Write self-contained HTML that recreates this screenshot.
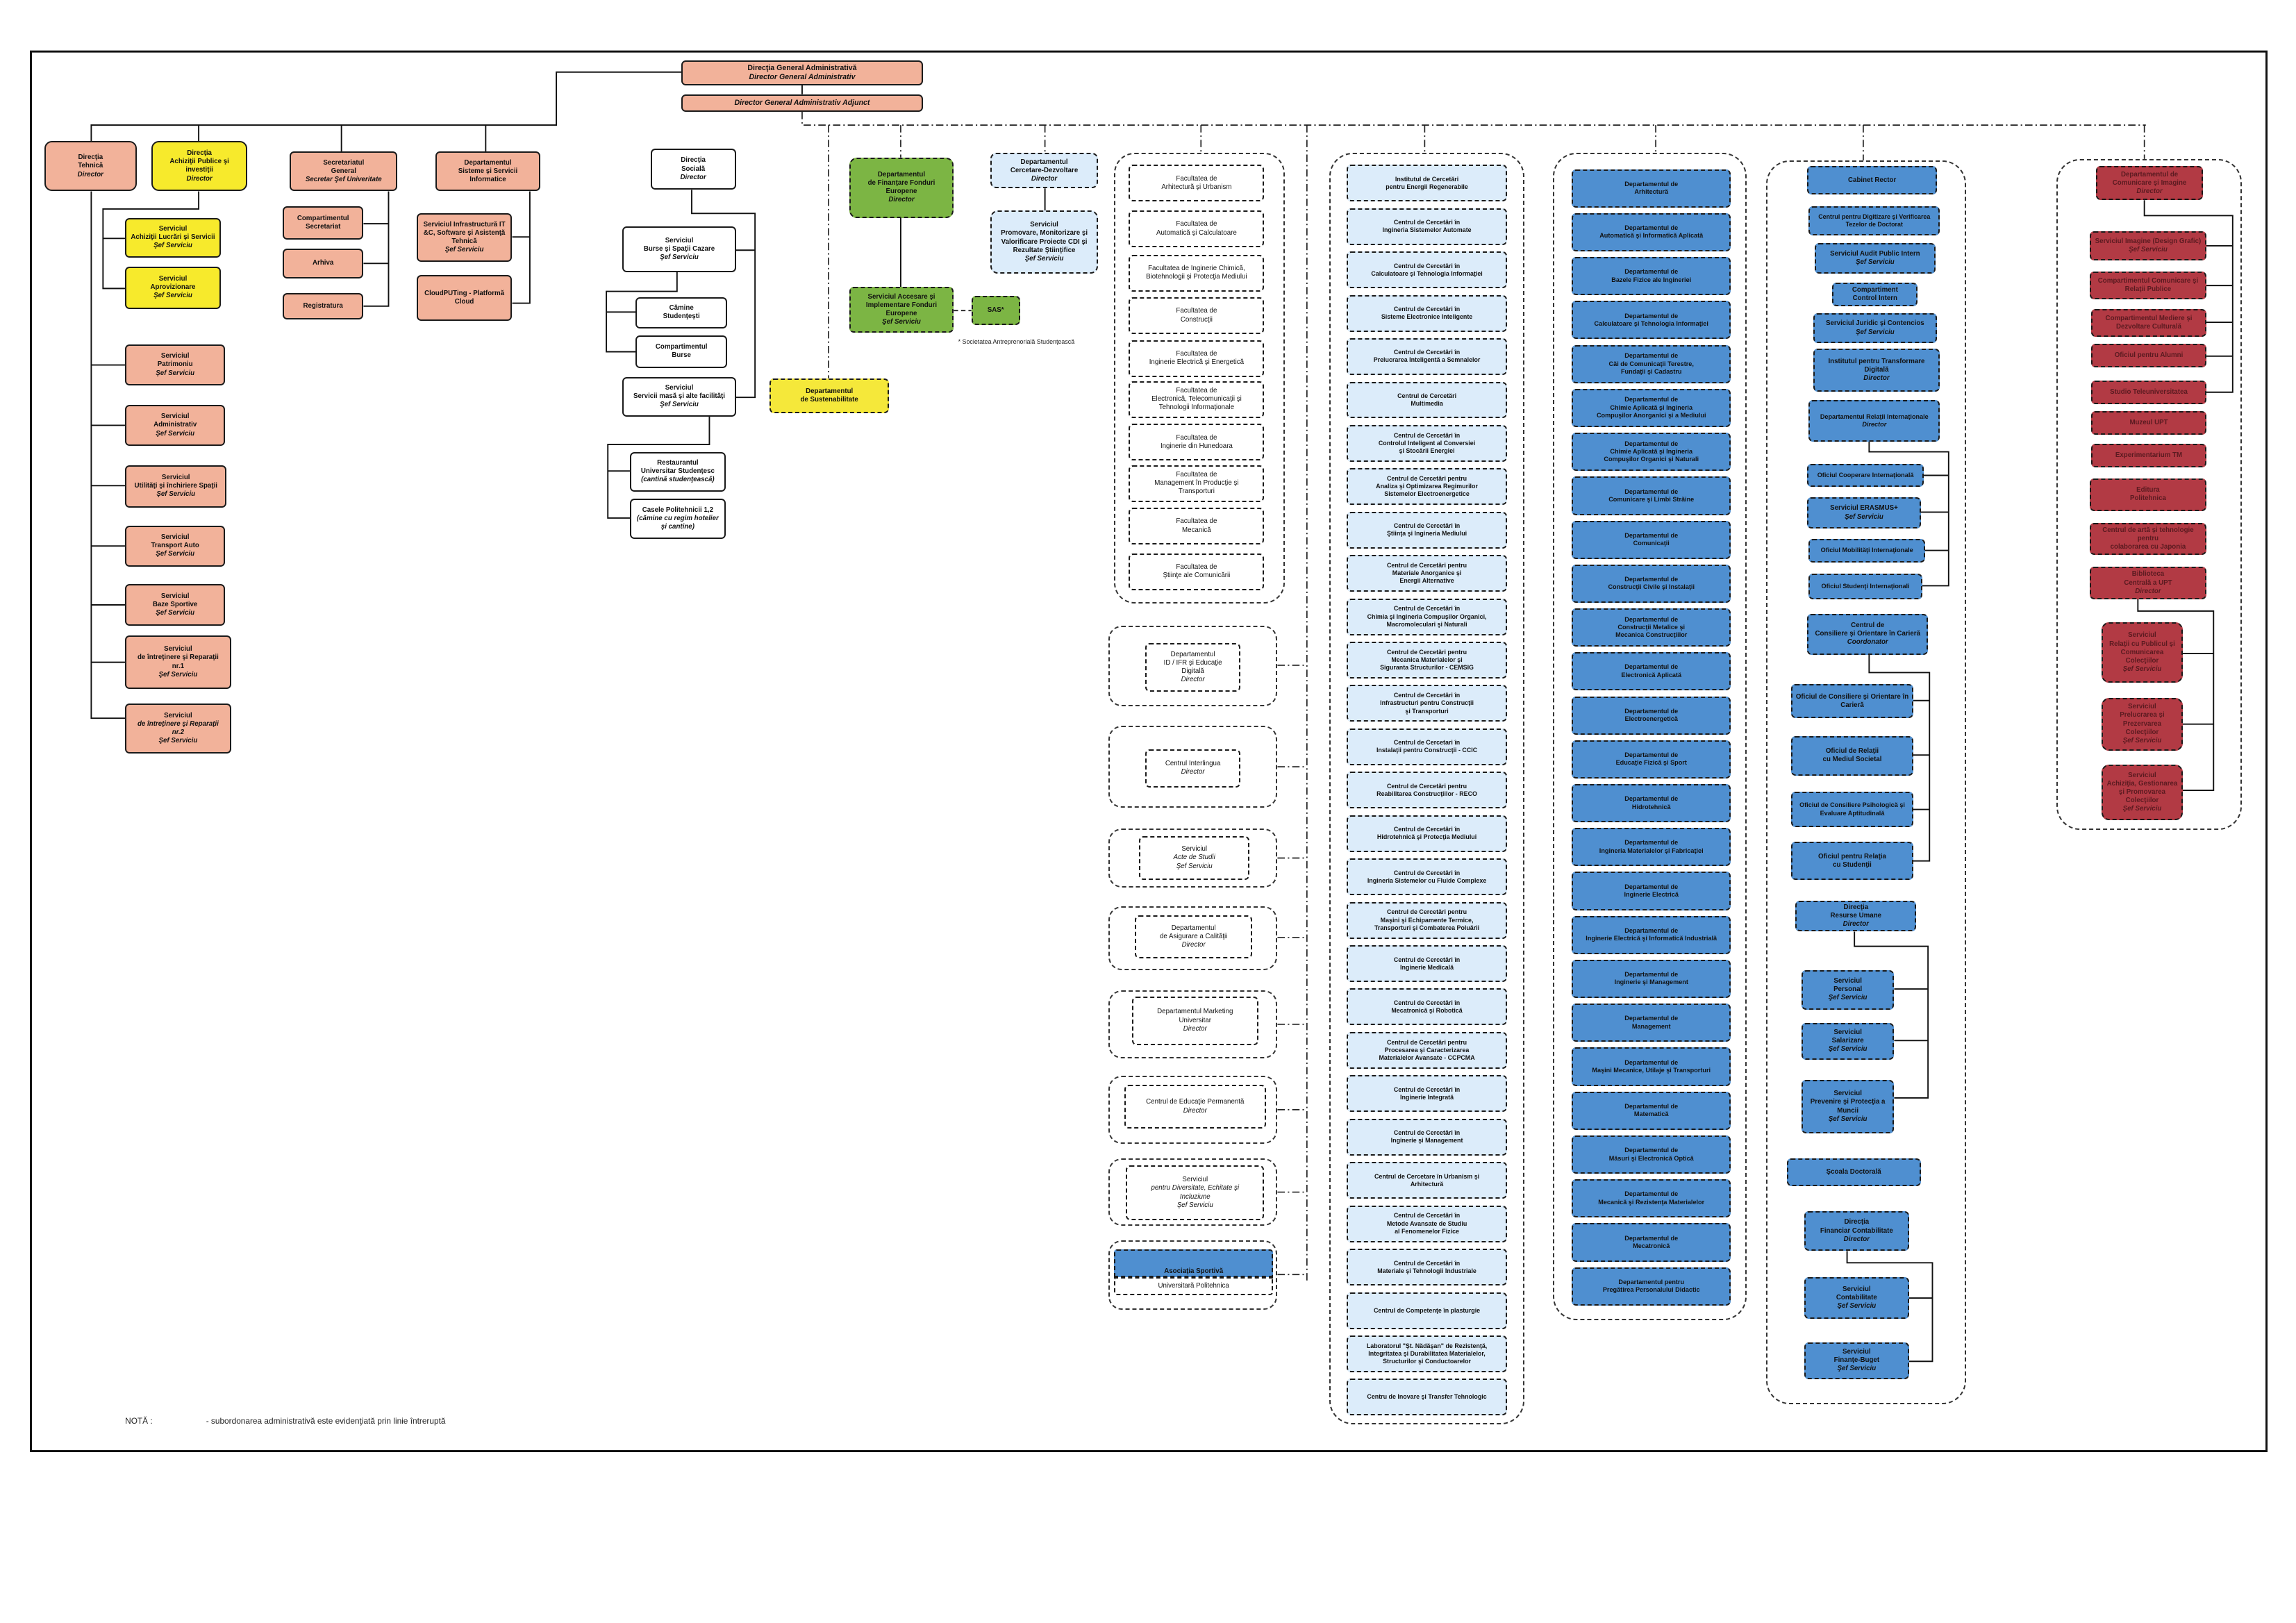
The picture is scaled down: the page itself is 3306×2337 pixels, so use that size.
<!DOCTYPE html>
<html><head><meta charset="utf-8"><style>
html,body{margin:0;padding:0;background:#fff;}
body{width:3306px;height:2337px;overflow:hidden;}
#w{position:absolute;left:0;top:0;width:1560px;height:1103px;zoom:2.1192;font-family:"Liberation Sans Narrow","Liberation Sans",sans-serif;}
.b{position:absolute;display:flex;align-items:center;justify-content:center;text-align:center;box-sizing:border-box;border:1.3px solid #1a1a1a;border-radius:3px;font-size:4.6px;line-height:1.25;color:#111;font-weight:bold;padding:0 1px;}
.s{background:#f2b29a;}
.y{background:#f7ea2c;}
.w{background:#fff;}
.g{background:#7cb544;border-style:dashed;}
.lb{background:#dcecfa;border-style:dashed;}
.wd{background:#fff;border-style:dashed;font-weight:normal;}
.bl{background:#4f8fd0;border-style:dashed;}
.r{background:#b23a44;border-style:dashed;color:#5a1a20;}
.yd{background:#f5e83a;border-style:dashed;}
.c{position:absolute;box-sizing:border-box;border:1px dashed #333;border-radius:9px;}
.f{left:767px;width:92px;height:25px;font-weight:normal;}
.rc{left:915px;width:109px;height:25px;font-size:4.2px;}
.dp{left:1068px;width:108px;height:26px;font-size:4.3px;}
svg{position:absolute;left:0;top:0;}
</style></head><body><div id="w">
<svg width="1560" height="1103" viewBox="0 0 1560 1103" fill="none">
<rect x="21" y="35" width="1519" height="951" stroke="#111" stroke-width="1.4"/>
<g stroke="#111" stroke-width="0.9">
<path d="M463 49H378V85H62V97M135 85V96M232 85V103M330 85V103M545 57V64"/>
<path d="M135 130V142H70V196H85M70 162H85"/>
<path d="M264 130V208H247M247 152H264M247 179H264"/>
<path d="M360 130V206H348M348 161H360"/>
<path d="M62 130V488H85M62 248H85M62 289H85M62 330H85M62 371H85M62 411H85M62 450H85"/>
<path d="M470 129V145H513V270H500M500 170H513"/>
<path d="M460 185V198H412V239H432M412 212H432"/>
<path d="M482 283V302H413V352H428M413 320H428"/>
<path d="M612 148V195M710 128V143"/>
<path d="M1270 300V307H1324V398H1306M1307 323H1324M1305 348H1324M1308 374H1324"/>
<path d="M1270 445V457H1311V585H1300M1300 476H1311M1300 513H1311M1300 550H1311"/>
<path d="M1260 633V643H1310V746H1287M1287 672H1310M1287 707H1310"/>
<path d="M1255 850V858H1313V925H1297M1297 882H1313"/>
<path d="M1457 136V146.5H1517V266.5H1499M1499 167H1517M1499 194H1517M1499 219H1517M1499 242H1517"/>
<path d="M1452.6 407V415.2H1504V537H1483M1483 444H1504M1483 492H1504"/>
</g>
<g stroke="#222" stroke-width="0.8" stroke-dasharray="5 2 1 2">
<path d="M545 76V85H1458M563 85V257M612 85V107M710 85V104M816 85V105M968 85V104M1125 85V104M1266 85V109M1457 85V108M888 85V870"/>
<path d="M868 452H888M868 521H888M868 583H888M868 637H888M868 696H888M868 754H888M868 810H888M868 866H888"/>
</g>
<path d="M648 211H660" stroke="#222" stroke-width="0.9" stroke-dasharray="3 2"/>
</svg>

<div class="b s" style="left:463px;top:41px;width:164px;height:17px;font-size:5px"><span>Direcţia General Administrativă<br><i>Director General Administrativ</i></span></div>
<div class="b s" style="left:463px;top:64px;width:164px;height:12px;font-size:5px"><span><i>Director General Administrativ Adjunct</i></span></div>

<div class="b s" style="left:30px;top:96px;width:63px;height:34px;border-radius:5px"><span>Direcţia<br>Tehnică<br><i>Director</i></span></div>
<div class="b y" style="left:103px;top:96px;width:65px;height:34px;border-radius:5px"><span>Direcţia<br>Achiziţii Publice şi<br>investiţii<br><i>Director</i></span></div>
<div class="b s" style="left:197px;top:103px;width:73px;height:27px"><span>Secretariatul<br>General<br><i>Secretar Şef Univeritate</i></span></div>
<div class="b s" style="left:296px;top:103px;width:71px;height:27px"><span>Departamentul<br>Sisteme şi Servicii<br>Informatice</span></div>
<div class="b y" style="left:85px;top:148px;width:65px;height:27px"><span>Serviciul<br>Achiziţii Lucrări şi Servicii<br><i>Şef Serviciu</i></span></div>
<div class="b y" style="left:85px;top:181px;width:65px;height:29px"><span>Serviciul<br>Aprovizionare<br><i>Şef Serviciu</i></span></div>
<div class="b s" style="left:192px;top:140px;width:55px;height:23px"><span>Compartimentul<br>Secretariat</span></div>
<div class="b s" style="left:192px;top:169px;width:55px;height:20px"><span>Arhiva</span></div>
<div class="b s" style="left:192px;top:199px;width:55px;height:18px"><span>Registratura</span></div>
<div class="b s" style="left:283px;top:145px;width:65px;height:33px"><span>Serviciul Infrastructură IT<br>&amp;C, Software şi Asistenţă<br>Tehnică<br><i>Şef Serviciu</i></span></div>
<div class="b s" style="left:283px;top:187px;width:65px;height:31px"><span>CloudPUTing - Platformă<br>Cloud</span></div>
<div class="b s" style="left:85px;top:234px;width:68px;height:28px"><span>Serviciul<br>Patrimoniu<br><i>Şef Serviciu</i></span></div>
<div class="b s" style="left:85px;top:275px;width:68px;height:28px"><span>Serviciul<br>Administrativ<br><i>Şef Serviciu</i></span></div>
<div class="b s" style="left:85px;top:316px;width:69px;height:29px"><span>Serviciul<br>Utilităţi şi închiriere Spaţii<br><i>Şef Serviciu</i></span></div>
<div class="b s" style="left:85px;top:357px;width:68px;height:28px"><span>Serviciul<br>Transport Auto<br><i>Şef Serviciu</i></span></div>
<div class="b s" style="left:85px;top:397px;width:68px;height:28px"><span>Serviciul<br>Baze Sportive<br><i>Şef Serviciu</i></span></div>
<div class="b s" style="left:85px;top:432px;width:72px;height:36px"><span>Serviciul<br>de întreţinere şi Reparaţii<br>nr.1<br><i>Şef Serviciu</i></span></div>
<div class="b s" style="left:85px;top:478px;width:72px;height:34px"><span>Serviciul<br><i>de întreţinere şi Reparaţii<br>nr.2<br>Şef Serviciu</i></span></div>

<div class="b w" style="left:442px;top:101px;width:58px;height:28px"><span>Direcţia<br>Socială<br><i>Director</i></span></div>
<div class="b w" style="left:423px;top:154px;width:77px;height:31px"><span>Serviciul<br>Burse şi Spaţii Cazare<br><i>Şef Serviciu</i></span></div>
<div class="b w" style="left:432px;top:202px;width:62px;height:21px"><span>Cămine<br>Studenţeşti</span></div>
<div class="b w" style="left:432px;top:228px;width:62px;height:22px"><span>Compartimentul<br>Burse</span></div>
<div class="b w" style="left:423px;top:256px;width:77px;height:27px"><span>Serviciul<br>Servicii masă şi alte facilităţi<br><i>Şef Serviciu</i></span></div>
<div class="b w" style="left:428px;top:307px;width:65px;height:27px"><span>Restaurantul<br>Universitar Studenţesc<br><i>(cantină studenţească)</i></span></div>
<div class="b w" style="left:428px;top:339px;width:65px;height:27px"><span>Casele Politehnicii 1,2<br><i>(cămine cu regim hotelier<br>şi cantine)</i></span></div>

<div class="b yd" style="left:523px;top:257px;width:81px;height:24px"><span>Departamentul<br>de Sustenabilitate</span></div>
<div class="b g" style="left:577px;top:107px;width:71px;height:41px;border-radius:5px"><span>Departamentul<br>de Finanţare Fonduri<br>Europene<br><i>Director</i></span></div>
<div class="b g" style="left:577px;top:195px;width:71px;height:31px"><span>Serviciul Accesare şi<br>Implementare Fonduri<br>Europene<br><i>Şef Serviciu</i></span></div>
<div class="b g" style="left:660px;top:201px;width:33px;height:20px"><span>SAS*</span></div>
<div style="position:absolute;left:651px;top:230px;font-size:4.2px;color:#222">* Societatea Antreprenorială Studenţească</div>
<div class="b lb" style="left:673px;top:104px;width:73px;height:24px;border-radius:4px"><span>Departamentul<br>Cercetare-Dezvoltare<br><i>Director</i></span></div>
<div class="b lb" style="left:673px;top:143px;width:73px;height:43px;border-radius:5px"><span>Serviciul<br>Promovare, Monitorizare şi<br>Valorificare Proiecte CDI şi<br>Rezultate Ştiinţifice<br><i>Şef Serviciu</i></span></div>

<div class="c" style="left:757px;top:104px;width:116px;height:306px;border-radius:14px"></div>
<div class="b wd f" style="top:112px"><span>Facultatea de<br>Arhitectură şi Urbanism</span></div>
<div class="b wd f" style="top:143px"><span>Facultatea de<br>Automatică şi Calculatoare</span></div>
<div class="b wd f" style="top:173px"><span>Facultatea de Inginerie Chimică,<br>Biotehnologii şi Protecţia Mediului</span></div>
<div class="b wd f" style="top:202px"><span>Facultatea de<br>Construcţii</span></div>
<div class="b wd f" style="top:231px"><span>Facultatea de<br>Inginerie Electrică şi Energetică</span></div>
<div class="b wd f" style="top:259px"><span>Facultatea de<br>Electronică, Telecomunicaţii şi<br>Tehnologii Informaţionale</span></div>
<div class="b wd f" style="top:288px"><span>Facultatea de<br>Inginerie din Hunedoara</span></div>
<div class="b wd f" style="top:316px"><span>Facultatea de<br>Management în Producţie şi<br>Transporturi</span></div>
<div class="b wd f" style="top:345px"><span>Facultatea de<br>Mecanică</span></div>
<div class="b wd f" style="top:376px"><span>Facultatea de<br>Ştiinţe ale Comunicării</span></div>

<div class="c" style="left:753px;top:425px;width:115px;height:55px"></div>
<div class="b wd" style="left:778px;top:437px;width:65px;height:33px"><span>Departamentul<br>ID / IFR şi Educaţie<br>Digitală<br><i>Director</i></span></div>
<div class="c" style="left:753px;top:493px;width:115px;height:56px"></div>
<div class="b wd" style="left:778px;top:509px;width:65px;height:26px"><span>Centrul Interlingua<br><i>Director</i></span></div>
<div class="c" style="left:753px;top:563px;width:115px;height:40px"></div>
<div class="b wd" style="left:774px;top:568px;width:75px;height:30px"><span>Serviciul<br><i>Acte de Studii<br>Şef Serviciu</i></span></div>
<div class="c" style="left:753px;top:616px;width:115px;height:43px"></div>
<div class="b wd" style="left:771px;top:622px;width:80px;height:29px"><span>Departamentul<br>de Asigurare a Calităţii<br><i>Director</i></span></div>
<div class="c" style="left:753px;top:673px;width:115px;height:46px"></div>
<div class="b wd" style="left:769px;top:677px;width:86px;height:33px"><span>Departamentul Marketing<br>Universitar<br><i>Director</i></span></div>
<div class="c" style="left:753px;top:731px;width:115px;height:46px"></div>
<div class="b wd" style="left:764px;top:737px;width:96px;height:30px"><span>Centrul de Educaţie Permanentă<br><i>Director</i></span></div>
<div class="c" style="left:753px;top:787px;width:115px;height:46px"></div>
<div class="b wd" style="left:765px;top:792px;width:94px;height:37px"><span>Serviciul<br><i>pentru Diversitate, Echitate şi<br>Incluziune<br>Şef Serviciu</i></span></div>
<div class="c" style="left:753px;top:843px;width:115px;height:47px"></div>
<div class="b bl" style="left:757px;top:849px;width:108px;height:19px;border-radius:2px 2px 0 0;align-items:flex-end"><span>Asociaţia Sportivă</span></div>
<div class="b wd" style="left:757px;top:868px;width:108px;height:12px;border-radius:0 0 2px 2px"><span>Universitară Politehnica</span></div>

<div class="c" style="left:903px;top:104px;width:133px;height:864px;border-radius:16px"></div>
<div class="b lb rc" style="top:112px"><span>Institutul de Cercetări<br>pentru Energii Regenerabile</span></div>
<div class="b lb rc" style="top:141.5px"><span>Centrul de Cercetări în<br>Ingineria Sistemelor Automate</span></div>
<div class="b lb rc" style="top:170.9px"><span>Centrul de Cercetări în<br>Calculatoare şi Tehnologia Informaţiei</span></div>
<div class="b lb rc" style="top:200.4px"><span>Centrul de Cercetări în<br>Sisteme Electronice Inteligente</span></div>
<div class="b lb rc" style="top:229.8px"><span>Centrul de Cercetări în<br>Prelucrarea Inteligentă a Semnalelor</span></div>
<div class="b lb rc" style="top:259.3px"><span>Centrul de Cercetări<br>Multimedia</span></div>
<div class="b lb rc" style="top:288.8px"><span>Centrul de Cercetări în<br>Controlul Inteligent al Conversiei<br>şi Stocării Energiei</span></div>
<div class="b lb rc" style="top:318.2px"><span>Centrul de Cercetări pentru<br>Analiza şi Optimizarea Regimurilor<br>Sistemelor Electroenergetice</span></div>
<div class="b lb rc" style="top:347.7px"><span>Centrul de Cercetări în<br>Ştiinţa şi Ingineria Mediului</span></div>
<div class="b lb rc" style="top:377.1px"><span>Centrul de Cercetări pentru<br>Materiale Anorganice şi<br>Energii Alternative</span></div>
<div class="b lb rc" style="top:406.6px"><span>Centrul de Cercetări în<br>Chimia şi Ingineria Compuşilor Organici,<br>Macromoleculari şi Naturali</span></div>
<div class="b lb rc" style="top:436.1px"><span>Centrul de Cercetări pentru<br>Mecanica Materialelor şi<br>Siguranta Structurilor - CEMSIG</span></div>
<div class="b lb rc" style="top:465.5px"><span>Centrul de Cercetări în<br>Infrastructuri pentru Construcţii<br>şi Transporturi</span></div>
<div class="b lb rc" style="top:495px"><span>Centrul de Cercetari în<br>Instalaţii pentru Construcţii - CCIC</span></div>
<div class="b lb rc" style="top:524.4px"><span>Centrul de Cercetări pentru<br>Reabilitarea Construcţiilor - RECO</span></div>
<div class="b lb rc" style="top:553.9px"><span>Centrul de Cercetări în<br>Hidrotehnică şi Protecţia Mediului</span></div>
<div class="b lb rc" style="top:583.4px"><span>Centrul de Cercetări în<br>Ingineria Sistemelor cu Fluide Complexe</span></div>
<div class="b lb rc" style="top:612.8px"><span>Centrul de Cercetări pentru<br>Maşini şi Echipamente Termice,<br>Transporturi şi Combaterea Poluării</span></div>
<div class="b lb rc" style="top:642.3px"><span>Centrul de Cercetări în<br>Inginerie Medicală</span></div>
<div class="b lb rc" style="top:671.7px"><span>Centrul de Cercetări în<br>Mecatronică şi Robotică</span></div>
<div class="b lb rc" style="top:701.2px"><span>Centrul de Cercetări pentru<br>Procesarea şi Caracterizarea<br>Materialelor Avansate - CCPCMA</span></div>
<div class="b lb rc" style="top:730.7px"><span>Centrul de Cercetări în<br>Inginerie Integrată</span></div>
<div class="b lb rc" style="top:760.1px"><span>Centrul de Cercetări în<br>Inginerie şi Management</span></div>
<div class="b lb rc" style="top:789.6px"><span>Centrul de Cercetare în Urbanism şi<br>Arhitectură</span></div>
<div class="b lb rc" style="top:819px"><span>Centrul de Cercetări în<br>Metode Avansate de Studiu<br>al Fenomenelor Fizice</span></div>
<div class="b lb rc" style="top:848.5px"><span>Centrul de Cercetări în<br>Materiale şi Tehnologii Industriale</span></div>
<div class="b lb rc" style="top:878px"><span>Centrul de Competenţe în plasturgie</span></div>
<div class="b lb rc" style="top:907.4px"><span>Laboratorul "Şt. Nădăşan" de Rezistenţă,<br>Integritatea şi Durabilitatea Materialelor,<br>Structurilor şi Conductoarelor</span></div>
<div class="b lb rc" style="top:936.9px"><span>Centru de Inovare şi Transfer Tehnologic</span></div>

<div class="c" style="left:1055px;top:104px;width:132px;height:793px;border-radius:16px"></div>
<div class="b bl dp" style="top:115px"><span>Departamentul de<br>Arhitectură</span></div>
<div class="b bl dp" style="top:144.8px"><span>Departamentul de<br>Automatică şi Informatică Aplicată</span></div>
<div class="b bl dp" style="top:174.7px"><span>Departamentul de<br>Bazele Fizice ale Ingineriei</span></div>
<div class="b bl dp" style="top:204.5px"><span>Departamentul de<br>Calculatoare şi Tehnologia Informaţiei</span></div>
<div class="b bl dp" style="top:234.4px"><span>Departamentul de<br>Căi de Comunicaţii Terestre,<br>Fundaţii şi Cadastru</span></div>
<div class="b bl dp" style="top:264.2px"><span>Departamentul de<br>Chimie Aplicată şi Ingineria<br>Compuşilor Anorganici şi a Mediului</span></div>
<div class="b bl dp" style="top:294px"><span>Departamentul de<br>Chimie Aplicată şi Ingineria<br>Compuşilor Organici şi Naturali</span></div>
<div class="b bl dp" style="top:323.9px"><span>Departamentul de<br>Comunicare şi Limbi Străine</span></div>
<div class="b bl dp" style="top:353.7px"><span>Departamentul de<br>Comunicaţii</span></div>
<div class="b bl dp" style="top:383.6px"><span>Departamentul de<br>Construcţii Civile şi Instalaţii</span></div>
<div class="b bl dp" style="top:413.4px"><span>Departamentul de<br>Construcţii Metalice şi<br>Mecanica Construcţiilor</span></div>
<div class="b bl dp" style="top:443.2px"><span>Departamentul de<br>Electronică Aplicată</span></div>
<div class="b bl dp" style="top:473.1px"><span>Departamentul de<br>Electroenergetică</span></div>
<div class="b bl dp" style="top:502.9px"><span>Departamentul de<br>Educaţie Fizică şi Sport</span></div>
<div class="b bl dp" style="top:532.8px"><span>Departamentul de<br>Hidrotehnică</span></div>
<div class="b bl dp" style="top:562.6px"><span>Departamentul de<br>Ingineria Materialelor şi Fabricaţiei</span></div>
<div class="b bl dp" style="top:592.4px"><span>Departamentul de<br>Inginerie Electrică</span></div>
<div class="b bl dp" style="top:622.3px"><span>Departamentul de<br>Inginerie Electrică şi Informatică Industrială</span></div>
<div class="b bl dp" style="top:652.1px"><span>Departamentul de<br>Inginerie şi Management</span></div>
<div class="b bl dp" style="top:682px"><span>Departamentul de<br>Management</span></div>
<div class="b bl dp" style="top:711.8px"><span>Departamentul de<br>Maşini Mecanice, Utilaje şi Transporturi</span></div>
<div class="b bl dp" style="top:741.6px"><span>Departamentul de<br>Matematică</span></div>
<div class="b bl dp" style="top:771.5px"><span>Departamentul de<br>Măsuri şi Electronică Optică</span></div>
<div class="b bl dp" style="top:801.3px"><span>Departamentul de<br>Mecanică şi Rezistenţa Materialelor</span></div>
<div class="b bl dp" style="top:831.2px"><span>Departamentul de<br>Mecatronică</span></div>
<div class="b bl dp" style="top:861px"><span>Departamentul pentru<br>Pregătirea Personalului Didactic</span></div>

<div class="c" style="left:1200px;top:109px;width:136px;height:845px;border-radius:16px"></div>
<div class="b bl" style="left:1228px;top:113px;width:88px;height:19px"><span>Cabinet Rector</span></div>
<div class="b bl" style="left:1229px;top:140px;width:89px;height:20px;font-size:4.2px"><span>Centrul pentru Digitizare şi Verificarea<br>Tezelor de Doctorat</span></div>
<div class="b bl" style="left:1233px;top:165px;width:82px;height:21px"><span>Serviciul Audit Public Intern<br><i>Şef Serviciu</i></span></div>
<div class="b bl" style="left:1245px;top:192px;width:58px;height:16px"><span>Compartiment<br>Control Intern</span></div>
<div class="b bl" style="left:1232px;top:213px;width:84px;height:20px"><span>Serviciul Juridic şi Contencios<br><i>Şef Serviciu</i></span></div>
<div class="b bl" style="left:1232px;top:237px;width:86px;height:29px"><span>Institutul pentru Transformare<br>Digitală<br><i>Director</i></span></div>
<div class="b bl" style="left:1229px;top:272px;width:89px;height:28px;font-size:4.3px"><span>Departamentul Relaţii Internaţionale<br><i>Director</i></span></div>
<div class="b bl" style="left:1228px;top:315px;width:79px;height:16px;font-size:4.3px"><span>Oficiul Cooperare Internaţională</span></div>
<div class="b bl" style="left:1228px;top:338px;width:77px;height:21px"><span>Serviciul ERASMUS+<br><i>Şef Serviciu</i></span></div>
<div class="b bl" style="left:1229px;top:366px;width:79px;height:16px;font-size:4.3px"><span>Oficiul Mobilităţi Internaţionale</span></div>
<div class="b bl" style="left:1229px;top:390px;width:77px;height:17px;font-size:4.3px"><span>Oficiul Studenţi Internaţionali</span></div>
<div class="b bl" style="left:1228px;top:417px;width:82px;height:28px"><span>Centrul de<br>Consiliere şi Orientare în Carieră<br><i>Coordonator</i></span></div>
<div class="b bl" style="left:1217px;top:465px;width:83px;height:23px"><span>Oficiul de Consiliere şi Orientare în<br>Carieră</span></div>
<div class="b bl" style="left:1217px;top:500px;width:83px;height:27px"><span>Oficiul de Relaţii<br>cu Mediul Societal</span></div>
<div class="b bl" style="left:1217px;top:538px;width:83px;height:24px;font-size:4.3px"><span>Oficiul de Consiliere Psihologică şi<br>Evaluare Aptitudinală</span></div>
<div class="b bl" style="left:1217px;top:572px;width:83px;height:26px"><span>Oficiul pentru Relaţia<br>cu Studenţii</span></div>
<div class="b bl" style="left:1220px;top:612px;width:82px;height:21px"><span>Direcţia<br>Resurse Umane<br><i>Director</i></span></div>
<div class="b bl" style="left:1224px;top:659px;width:63px;height:27px"><span>Serviciul<br>Personal<br><i>Şef Serviciu</i></span></div>
<div class="b bl" style="left:1224px;top:695px;width:63px;height:25px"><span>Serviciul<br>Salarizare<br><i>Şef Serviciu</i></span></div>
<div class="b bl" style="left:1224px;top:734px;width:63px;height:36px"><span>Serviciul<br>Prevenire şi Protecţia a<br>Muncii<br><i>Şef Serviciu</i></span></div>
<div class="b bl" style="left:1214px;top:787px;width:91px;height:19px"><span>Şcoala Doctorală</span></div>
<div class="b bl" style="left:1226px;top:823px;width:71px;height:27px"><span>Direcţia<br>Financiar Contabilitate<br><i>Director</i></span></div>
<div class="b bl" style="left:1226px;top:868px;width:71px;height:28px"><span>Serviciul<br>Contabilitate<br><i>Şef Serviciu</i></span></div>
<div class="b bl" style="left:1226px;top:912px;width:71px;height:25px"><span>Serviciul<br>Finanţe-Buget<br><i>Şef Serviciu</i></span></div>

<div class="c" style="left:1397px;top:108px;width:126px;height:456px;border-radius:16px"></div>
<div class="b r" style="left:1424px;top:113px;width:73px;height:23px"><span>Departamentul de<br>Comunicare şi Imagine<br><i>Director</i></span></div>
<div class="b r" style="left:1420px;top:157px;width:79px;height:20px"><span>Serviciul Imagine (Design Grafic)<br><i>Şef Serviciu</i></span></div>
<div class="b r" style="left:1420px;top:184.5px;width:79px;height:19px"><span>Compartimentul Comunicare şi<br>Relaţii Publice</span></div>
<div class="b r" style="left:1421px;top:210px;width:78px;height:19px"><span>Compartimentul Mediere şi<br>Dezvoltare Culturală</span></div>
<div class="b r" style="left:1421px;top:233.5px;width:78px;height:16px"><span>Oficiul pentru Alumni</span></div>
<div class="b r" style="left:1421px;top:258.7px;width:78px;height:16px"><span>Studio Teleuniversitatea</span></div>
<div class="b r" style="left:1421px;top:279.3px;width:78px;height:16px"><span>Muzeul UPT</span></div>
<div class="b r" style="left:1421px;top:301.4px;width:78px;height:16px"><span>Experimentarium TM</span></div>
<div class="b r" style="left:1420px;top:325.2px;width:79px;height:22px"><span>Editura<br>Politehnica</span></div>
<div class="b r" style="left:1420px;top:355.2px;width:79px;height:22px"><span>Centrul de artă şi tehnologie pentru<br>colaborarea cu Japonia</span></div>
<div class="b r" style="left:1420px;top:385.2px;width:79px;height:22px"><span>Biblioteca<br>Centrală a UPT<br><i>Director</i></span></div>
<div class="b r" style="left:1428px;top:423px;width:55px;height:41px;border-radius:5px"><span>Serviciul<br>Relaţii cu Publicul şi<br>Comunicarea<br>Colecţiilor<br><i>Şef Serviciu</i></span></div>
<div class="b r" style="left:1428px;top:474px;width:55px;height:36px;border-radius:5px"><span>Serviciul<br>Prelucrarea şi<br>Prezervarea<br>Colecţiilor<br><i>Şef Serviciu</i></span></div>
<div class="b r" style="left:1428px;top:519.5px;width:55px;height:38px;border-radius:5px"><span>Serviciul<br>Achiziţia, Gestionarea<br>şi Promovarea<br>Colecţiilor<br><i>Şef Serviciu</i></span></div>

<div style="position:absolute;left:85px;top:962px;font-size:5.6px;color:#222;font-family:'Liberation Sans',sans-serif">NOTĂ :</div>
<div style="position:absolute;left:140px;top:962px;font-size:5.6px;color:#222;font-family:'Liberation Sans',sans-serif">- subordonarea administrativă este evidenţiată prin linie întreruptă</div>
</div></body></html>
